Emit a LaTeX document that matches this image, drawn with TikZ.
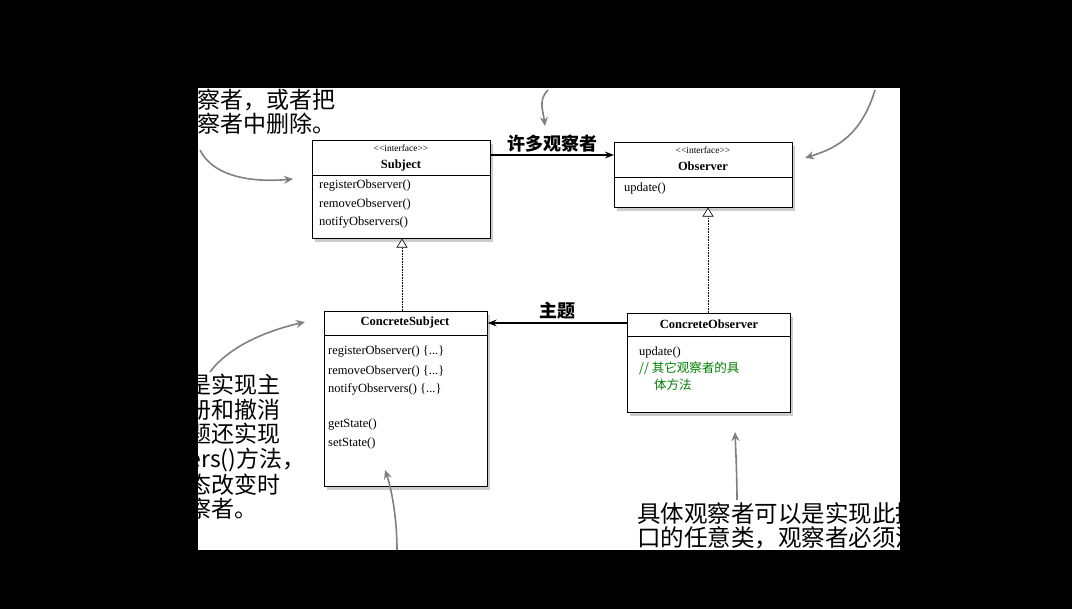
\documentclass[tikz,border=0pt]{standalone}
\usepackage{fontspec}
\setmainfont{Liberation Serif}
\newfontfamily\cjk{Noto Sans CJK SC}
\usetikzlibrary{shadows,arrows.meta}
\tikzset{
  umlbox/.style = {draw, fill=white, line width=0.6pt, drop shadow={shadow xshift=3pt, shadow yshift=-4pt, opacity=0.4}},
  note/.style = {align=left, anchor=north west, inner sep=0pt, font=\cjk\fontsize{23}{24.5}\selectfont},
  hand/.style = {draw=gray, line width=1.6pt, -{Stealth[length=9pt,width=8pt]}},
  member/.style = {anchor=west, inner sep=0pt, font=\fontsize{12.5}{14}\selectfont},
  realize/.style = {densely dotted, line width=0.6pt, -{Triangle[open,length=9pt,width=11pt,fill=white]}}
}
\begin{document}
\begin{tikzpicture}[x=1pt,y=-1pt]
\fill[black] (0,0) rectangle (1072,609);
\useasboundingbox (0,0) rectangle (1072,609);
\fill[white] (198,88) rectangle (900,550);
% classes
\node[umlbox, minimum width=178, minimum height=98, anchor=north west] (subject) at (312,140) {};
\draw (312,175) -- (490,175);
\node[font=\fontsize{9.5}{10}\selectfont] (subjstereo) at (401,148) {<{}<interface>{}>};
\node[font=\bfseries\fontsize{12.5}{14}\selectfont] (subjname) at (401,165) {Subject};
\node[member] (sm1) at (319,186) {registerObserver()};
\node[member] (sm2) at (319,204) {removeObserver()};
\node[member] (sm3) at (319,222) {notifyObservers()};

\node[umlbox, minimum width=178, minimum height=65, anchor=north west] (observer) at (614,142) {};
\draw (614,177) -- (792,177);
\node[font=\fontsize{9.5}{10}\selectfont] (obsstereo) at (703,150) {<{}<interface>{}>};
\node[font=\bfseries\fontsize{12.5}{14}\selectfont] (obsname) at (703,166) {Observer};
\node[member] (om1) at (624,188) {update()};

\node[umlbox, minimum width=163, minimum height=175, anchor=north west] (csubject) at (324,311) {};
\draw (324,335) -- (487,335);
\node[font=\bfseries\fontsize{12.5}{14}\selectfont] (csname) at (405,322) {ConcreteSubject};
\node[member] (cs1) at (328,352) {registerObserver() \{...\}};
\node[member] (cs2) at (328,371) {removeObserver() \{...\}};
\node[member] (cs3) at (328,389) {notifyObservers() \{...\}};
\node[member] (cs4) at (328,425) {getState()};
\node[member] (cs5) at (328,443) {setState()};

\node[umlbox, minimum width=163, minimum height=99, anchor=north west] (cobserver) at (627,313) {};
\draw (627,336) -- (790,336);
\node[font=\bfseries\fontsize{12.5}{14}\selectfont] (coname) at (709,324) {ConcreteObserver};
\node[member] (co1) at (639,352) {update()};
\node[member, text=green!50!black, align=left, anchor=north west, font=\cjk\fontsize{12.5}{17}\selectfont] (co2) at (639,362) {// 其它观察者的具\\\hspace{1.2em}体方法};

% associations
\draw[line width=1.6pt, -{Stealth[length=9pt]}] (subject.east |- 0,155) -- (observer.west |- 0,155)
  node[midway, above=-1pt, font=\cjk\bfseries\fontsize{18}{20}\selectfont] (many) {许多观察者};
\draw[line width=1.6pt, -{Stealth[length=9pt]}] (cobserver.west |- 0,323) -- (csubject.east |- 0,323)
  node[midway, above=0pt, font=\cjk\bfseries\fontsize{18}{20}\selectfont] (subjlbl) {主题};
\draw[realize] (csubject.north -| 402,0) -- (subject.south -| 402,0);
\draw[realize] (cobserver.north -| 708,0) -- (observer.south -| 708,0);

% notes
\node[note] (n1) at (105,64) {主题接口，对象使用此接口\\注册为观察者，或者把\\自己从观察者中删除。};
\node[note] (n2) at (447,33) {每个主题可以有\\多个观察者。};
\node[note, font=\cjk\fontsize{19}{25}\selectfont] (n3) at (668,6) {所有潜在的观察者必须实现观察者接口，\\这个接口只有一个update()方法，当\\主题状态改变时它被调用。};
\node[note] (n4) at (27,374) {一个具体主题总是实现主\\题接口，除了注册和撤消\\方法外，具体主题还实现\\了notifyObservers()方法，\\此方法用于在状态改变时\\更新所有当前观察者。};
\node[note] (n5) at (283,554) {具体主题也可能有设置\\和获取状态的方法。};
\node[note, font=\cjk\fontsize{23.5}{24.5}\selectfont] (n6) at (637,502) {具体观察者可以是实现此接\\口的任意类，观察者必须注\\册具体主题，以便接收更新。};

% hand arrows
\draw[hand] (200,150) .. controls (215,180) and (260,182) .. (293,179);
\draw[hand] (548,90) .. controls (538,100) and (543,110) .. (545,126);
\draw[hand] (875,90) .. controls (860,140) and (830,150) .. (805,158);
\draw[hand] (210,372) .. controls (230,345) and (270,330) .. (305,322);
\draw[hand] (397,550) .. controls (397,520) and (392,490) .. (385,470);
\draw[hand] (737,500) .. controls (737,480) and (736,455) .. (735,432);
\end{tikzpicture}
\end{document}
